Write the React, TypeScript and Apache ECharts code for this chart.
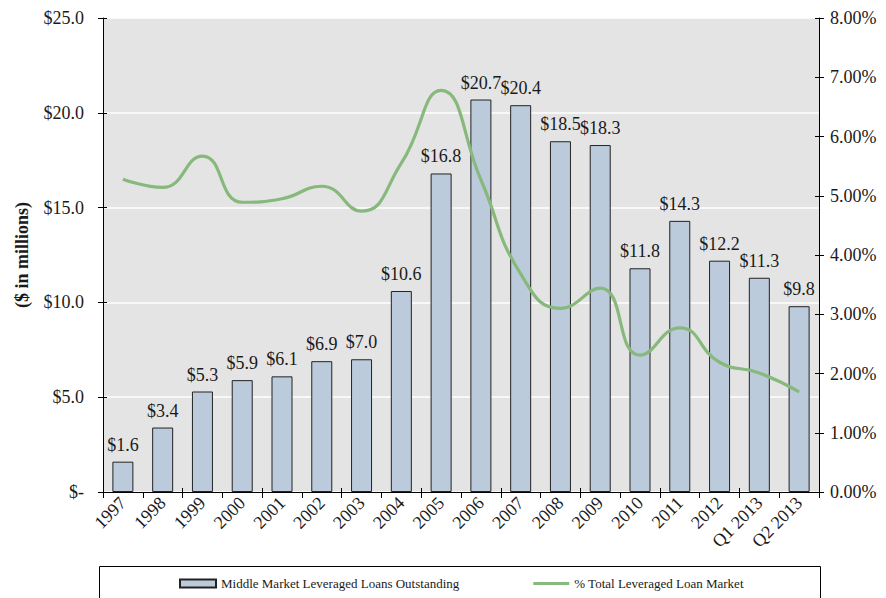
import React, { useEffect, useRef } from "react";
import * as echarts from "echarts";

const categories = ["1997","1998","1999","2000","2001","2002","2003","2004","2005","2006","2007","2008","2009","2010","2011","2012","Q1 2013","Q2 2013"];
const loans = [1.6,3.4,5.3,5.9,6.1,6.9,7.0,10.6,16.8,20.7,20.4,18.5,18.3,11.8,14.3,12.2,11.3,9.8];
const pctMarket = [5.28,5.14,5.67,4.89,4.95,5.16,4.74,5.55,6.78,5.27,3.68,3.1,3.44,2.31,2.77,2.19,2.01,1.69];
const barName = "Middle Market Leveraged Loans Outstanding";
const lineName = "% Total Leveraged Loan Market";

const FONT = "'Liberation Serif', 'Times New Roman', serif";
const TXT = "#1a1a1a";

export default function App() {
  const ref = useRef<HTMLDivElement>(null);
  useEffect(() => {
    document.body.style.margin = "0";
    const chart = echarts.init(ref.current!, null, { renderer: "svg" });
    chart.setOption({
      animation: false,
      backgroundColor: "#ffffff",
      textStyle: { fontFamily: FONT, color: TXT },
      grid: {
        left: 103, right: 67, top: 18, bottom: 106,
        show: true, backgroundColor: "#e4e4e4", borderWidth: 0,
      },
      legend: {
        left: 174, top: 572, itemGap: 74, itemWidth: 36, itemHeight: 8,
        textStyle: { fontFamily: FONT, fontSize: 13, color: TXT },
        data: [
          { name: barName, icon: "rect" },
          { name: lineName, icon: "path://M0,0 L36,0 L36,3 L0,3 Z" },
        ],
      },
      graphic: [
        {
          type: "rect",
          shape: { x: 99.5, y: 566.5, width: 721, height: 50 },
          style: { fill: "none", stroke: "#000", lineWidth: 1 },
          silent: true,
        },
      ],
      xAxis: [
        {
          type: "category",
          data: categories,
          axisLine: { lineStyle: { color: "#000", width: 1 } },
          axisTick: { show: true, alignWithLabel: false, length: 6, lineStyle: { color: "#000" } },
          axisLabel: { rotate: 45, fontFamily: FONT, fontSize: 18, color: TXT, margin: 8, interval: 0 },
        },
        {
          type: "category",
          data: categories,
          position: "bottom",
          axisLine: { show: false },
          axisTick: { show: true, inside: true, length: 4, lineStyle: { color: "#000" } },
          axisLabel: { show: false },
        },
      ],
      yAxis: [
        {
          type: "value",
          min: 0, max: 25, interval: 5,
          name: "($ in millions)",
          nameLocation: "middle",
          nameRotate: 90,
          nameGap: 72,
          nameTextStyle: { fontFamily: FONT, fontSize: 18, fontWeight: "bold", color: TXT },
          axisLine: { show: true, lineStyle: { color: "#000" } },
          axisTick: { show: true, length: 5, lineStyle: { color: "#000" } },
          axisLabel: {
            fontFamily: FONT, fontSize: 18, color: TXT, margin: 19,
            formatter: (v: number) => (v === 0 ? "$-" : "$" + v.toFixed(1)),
          },
          splitLine: { show: true, lineStyle: { color: "#ffffff", width: 1.5 } },
        },
        {
          type: "value",
          min: 0, max: 8, interval: 1,
          position: "right",
          axisLine: { show: true, lineStyle: { color: "#000" } },
          axisTick: { show: true, length: 5, lineStyle: { color: "#000" } },
          axisLabel: {
            fontFamily: FONT, fontSize: 18, color: TXT, margin: 11,
            formatter: (v: number) => v.toFixed(2) + "%",
          },
          splitLine: { show: false },
        },
        {
          type: "value",
          min: 0, max: 25, interval: 5,
          position: "left",
          axisLine: { show: false },
          axisTick: { show: true, inside: true, length: 4, lineStyle: { color: "#000" } },
          axisLabel: { show: false },
          splitLine: { show: false },
        },
        {
          type: "value",
          min: 0, max: 8, interval: 1,
          position: "right",
          axisLine: { show: false },
          axisTick: { show: true, inside: true, length: 4, lineStyle: { color: "#000" } },
          axisLabel: { show: false },
          splitLine: { show: false },
        },
      ],
      series: [
        {
          name: barName,
          type: "bar",
          data: loans,
          barWidth: 21,
          itemStyle: { color: "#bccbdb", borderColor: "#222", borderWidth: 1 },
          label: {
            show: true, position: "top", distance: 8,
            fontFamily: FONT, fontSize: 18, color: TXT,
            formatter: (p: any) => "$" + Number(p.value).toFixed(1),
          },
        },
        {
          name: lineName,
          type: "line",
          yAxisIndex: 1,
          data: pctMarket,
          smooth: 0.5,
          symbol: "none",
          lineStyle: { color: "#86b97b", width: 3.2 },
          itemStyle: { color: "#86b97b" },
          z: 3,
        },
      ],
    });
    return () => chart.dispose();
  }, []);
  return <div ref={ref} style={{ width: 886, height: 598 }} />;
}
